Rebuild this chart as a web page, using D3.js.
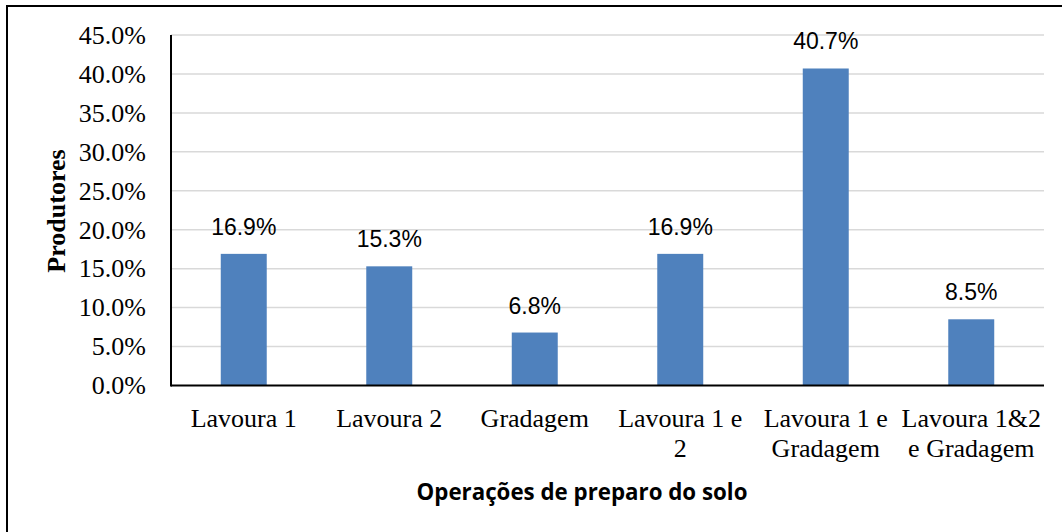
<!DOCTYPE html>
<html><head><meta charset="utf-8">
<script src="https://cdn.jsdelivr.net/npm/d3@7"></script>
<style>body{margin:0;background:#fff}svg{display:block}</style>
</head><body>
<svg id="c" width="1062" height="532"></svg>
<script>
const categories = ["Lavoura 1","Lavoura 2","Gradagem","Lavoura 1 e 2","Lavoura 1 e Gradagem","Lavoura 1&2 e Gradagem"];
const categoryLines = [["Lavoura 1"],["Lavoura 2"],["Gradagem"],["Lavoura 1 e","2"],["Lavoura 1 e","Gradagem"],["Lavoura 1&2","e Gradagem"]];
const values = [16.9, 15.3, 6.8, 16.9, 40.7, 8.5];
const yTicks = [0,5,10,15,20,25,30,35,40,45];
const yTitle = "Produtores";
const xTitle = "Operações de preparo do solo";

const svg = d3.select("#c");
svg.append("rect").attr("x",7).attr("y",6).attr("width",1100).attr("height",600)
  .attr("fill","none").attr("stroke","#000").attr("stroke-width",2);

const L=171, R=1044, T=35, B=385.5;
const x = d3.scaleBand().domain(categories).range([L,R]).paddingInner(0.684).paddingOuter(0.342);
const y = d3.scaleLinear().domain([0,45]).range([B,T]);

// gridlines
svg.append("g").selectAll("line").data(yTicks.filter(d=>d>0)).join("line")
  .attr("x1",L).attr("x2",R).attr("y1",d=>y(d)).attr("y2",d=>y(d))
  .attr("stroke","#d9d9d9").attr("stroke-width",1.5);

// y tick labels
const yAxis = d3.axisLeft(y).tickValues(yTicks).tickSize(0).tickPadding(25).tickFormat(d=>d.toFixed(1)+"%");
const gy = svg.append("g").attr("transform",`translate(${L},0)`).call(yAxis);
gy.select(".domain").remove();
gy.selectAll("text").attr("font-family","'Liberation Serif','Times New Roman',serif").attr("font-size",26).attr("fill","#000").attr("dy","0.32em");

// bars
svg.append("g").selectAll("rect").data(values).join("rect")
  .attr("x",(d,i)=>x(categories[i])).attr("width",x.bandwidth())
  .attr("y",d=>y(d)).attr("height",d=>B-y(d)).attr("fill","#4f81bd");

// value labels
svg.append("g").selectAll("text").data(values).join("text")
  .attr("x",(d,i)=>x(categories[i])+x.bandwidth()/2).attr("y",d=>y(d)-19)
  .attr("text-anchor","middle").attr("font-family","'Liberation Sans',Arial,sans-serif")
  .attr("font-size",23).attr("fill","#000").text(d=>d.toFixed(1)+"%");

// axis lines
svg.append("line").attr("x1",L).attr("x2",L).attr("y1",T).attr("y2",B+1).attr("stroke","#000").attr("stroke-width",2);
svg.append("line").attr("x1",L).attr("x2",R).attr("y1",B).attr("y2",B).attr("stroke","#000").attr("stroke-width",2);

// category labels
const xAxis = d3.axisBottom(x).tickSize(0).tickFormat("");
const gx = svg.append("g").attr("transform",`translate(0,${B})`).call(xAxis);
gx.select(".domain").remove();
gx.selectAll(".tick").each(function(d,i){
  const t = d3.select(this).append("text").attr("text-anchor","middle")
    .attr("font-family","'Liberation Serif','Times New Roman',serif").attr("font-size",26).attr("fill","#000");
  categoryLines[i].forEach((ln,j)=>{
    t.append("tspan").attr("x",0).attr("y",41.5+j*29.5).text(ln);
  });
});

// axis titles
svg.append("text").attr("transform",`translate(65,211) rotate(-90)`).attr("text-anchor","middle")
  .attr("font-family","'Liberation Serif','Times New Roman',serif").attr("font-weight","bold")
  .attr("font-size",26).attr("fill","#000").text(yTitle);
svg.append("text").attr("x",582).attr("y",500).attr("text-anchor","middle")
  .attr("font-family","'Open Sans','Liberation Sans',sans-serif").attr("font-weight","bold")
  .attr("font-size",22.3).attr("fill","#000").text(xTitle);
</script>
</body></html>
